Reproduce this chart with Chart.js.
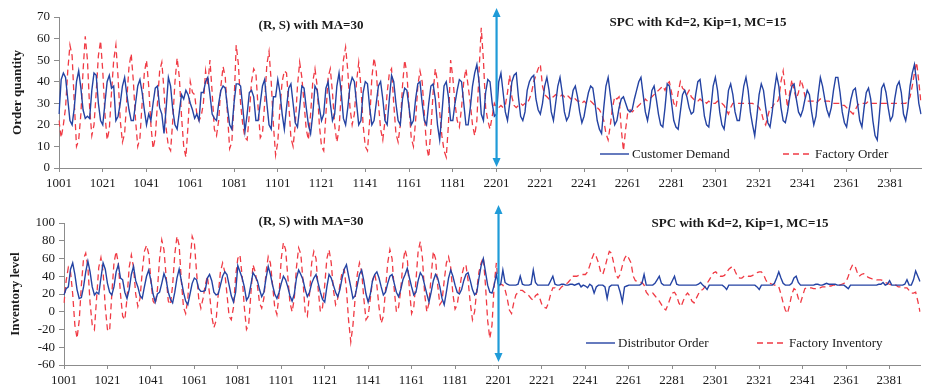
<!DOCTYPE html>
<html>
<head>
<meta charset="utf-8">
<script src="https://cdn.jsdelivr.net/npm/chart.js@4.4.1/dist/chart.umd.min.js"></script>
<style>
  html, body { margin: 0; padding: 0; background: #fff; overflow: hidden; }
  .panel { position: relative; width: 925px; }
</style>
</head>
<body>
<div class="panel" style="height:194px;"><canvas id="order-chart"></canvas></div>
<div class="panel" style="height:193px;"><canvas id="inventory-chart"></canvas></div>
<script>
'use strict';

// periods: (R, S) run 1001-1200, SPC run 2201-2395
const periodRuns = [[1001, 1200], [2201, 2395]];
const tickLabels = ['1001', '1021', '1041', '1061', '1081', '1101', '1121', '1141', '1161', '1181',
  '2201', '2221', '2241', '2261', '2281', '2301', '2321', '2341', '2361', '2381'];

// customer demand
const demandRS = [
  25, 41, 44, 42, 32, 22, 20, 28, 40, 45,
  37, 27, 23, 24, 23, 36, 44, 43, 30, 22,
  20, 30, 40, 43, 37, 38, 22, 24, 30, 38,
  42, 34, 27, 22, 22, 30, 38, 41, 35, 27,
  20, 25, 22, 30, 37, 38, 28, 25, 16, 28,
  42, 38, 27, 20, 18, 26, 34, 32, 36, 34,
  30, 27, 23, 25, 22, 35, 35, 40, 42, 34,
  25, 23, 22, 30, 36, 38, 37, 28, 20, 18,
  30, 39, 39, 38, 28, 17, 25, 35, 36, 33,
  22, 22, 30, 38, 41, 30, 20, 18, 33, 33,
  41, 35, 25, 18, 28, 37, 39, 30, 21, 19,
  28, 38, 37, 28, 20, 16, 25, 38, 36, 28,
  22, 25, 37, 40, 30, 22, 25, 38, 44, 35,
  23, 20, 28, 38, 42, 40, 30, 20, 22, 35,
  40, 39, 28, 20, 22, 30, 38, 40, 32, 22,
  20, 32, 43, 40, 30, 22, 20, 32, 37, 36,
  28, 20, 22, 32, 39, 40, 30, 22, 20, 30,
  38, 39, 32, 20, 13, 25, 38, 40, 33, 22,
  22, 30, 36, 41, 40, 30, 20, 20, 28, 38,
  44, 48, 40, 25, 22, 35, 41, 40, 30, 24
];
const demandSPC = [
  25, 40, 44, 35, 26, 22, 30, 40, 43, 44,
  33, 24, 22, 26, 36, 40, 42, 43, 32, 27,
  25, 30, 38, 42, 36, 26, 22, 30, 38, 42,
  35, 26, 22, 24, 30, 36, 38, 33, 26, 21,
  24, 30, 35, 38, 37, 30, 22, 18, 16, 28,
  38, 42, 34, 26, 20, 22, 28, 32, 33, 30,
  27, 26, 27, 32, 36, 40, 42, 34, 26, 22,
  28, 36, 38, 32, 25, 20, 19, 28, 39, 38,
  30, 22, 19, 18, 26, 34, 36, 33, 28, 25,
  26, 34, 40, 41, 33, 24, 20, 19, 28, 38,
  42, 36, 26, 20, 18, 26, 36, 39, 34, 26,
  22, 22, 30, 38, 42, 36, 26, 20, 15, 24,
  34, 39, 36, 28, 21, 19, 26, 36, 43, 38,
  28, 22, 21, 26, 33, 38, 39, 32, 26, 24,
  27, 32, 36, 34, 26, 20, 24, 34, 42, 38,
  32, 27, 24, 28, 36, 42, 42, 35, 26, 21,
  19, 26, 32, 36, 37, 30, 22, 19, 28, 35,
  37, 32, 22, 15, 13, 25, 37, 39, 35, 28,
  22, 24, 32, 38, 40, 35, 25, 22, 28, 38,
  44, 48, 40, 30, 25
];

// factory order
const factoryOrderRS = [
  22, 14, 20, 28, 45, 57, 52, 30, 10, 13,
  25, 45, 61, 50, 28, 15, 20, 35, 52, 59,
  45, 25, 13, 18, 35, 50, 57, 42, 22, 12,
  16, 32, 47, 53, 40, 22, 10, 14, 30, 44,
  50, 38, 20, 9, 14, 30, 45, 49, 36, 18,
  10, 8, 22, 40, 51, 42, 24, 10, 5, 20,
  40, 35, 34, 25, 22, 24, 30, 45, 38, 50,
  35, 18, 15, 22, 38, 47, 42, 25, 9, 12,
  30, 57, 48, 30, 20, 14, 13, 25, 40, 46,
  44, 28, 14, 16, 30, 48, 54, 40, 20, 6,
  12, 28, 40, 45, 44, 30, 14, 10, 20, 38,
  49, 42, 30, 18, 13, 25, 40, 46, 38, 20,
  10, 8, 25, 42, 46, 35, 20, 12, 18, 35,
  50, 56, 45, 28, 20, 25, 40, 49, 38, 20,
  10, 8, 22, 42, 51, 45, 30, 18, 13, 22,
  35, 44, 46, 30, 16, 12, 20, 38, 50, 44,
  28, 14, 10, 22, 38, 45, 40, 25, 10, 5,
  18, 35, 46, 40, 26, 15, 8, 5, 20, 50,
  42, 30, 22, 19, 28, 40, 46, 38, 30, 20,
  15, 22, 45, 65, 50, 28, 22, 18, 24, 30
];
const factoryOrderSPC = [
  28, 28, 29, 28, 29, 35, 43, 33, 29, 28,
  29, 30, 29, 30, 30, 32, 35, 40, 43, 46,
  48, 38, 34, 33, 32, 33, 33, 34, 33, 33,
  34, 33, 34, 33, 32, 33, 32, 31, 31, 30,
  31, 30, 30, 31, 30, 29, 28, 27, 25, 22,
  16, 13, 20, 28, 33, 32, 33, 18, 8, 18,
  26, 27, 26, 27, 28, 29, 30, 30, 32, 31,
  32, 33, 34, 35, 36, 37, 38, 36, 39, 40,
  35, 30, 28, 35, 40, 37, 36, 34, 36, 33,
  32, 31, 31, 32, 31, 31, 30, 31, 30, 30,
  30, 31, 30, 30, 29, 27, 25, 28, 30, 30,
  30, 30, 30, 30, 30, 30, 30, 30, 29, 29,
  28, 26, 22, 20, 24, 28, 28, 30, 30, 32,
  40, 45, 36, 28, 35, 41, 36, 32, 35, 41,
  38, 33, 31, 31, 31, 31, 30, 31, 32, 32,
  31, 31, 31, 30, 30, 30, 30, 30, 29, 29,
  28, 27, 26, 25, 27, 29, 30, 30, 30, 30,
  31, 30, 30, 30, 30, 30, 30, 30, 30, 30,
  30, 30, 30, 30, 30, 30, 30, 30, 31, 33,
  38, 44, 49, 40, 30
];

// distributor order
const distributorOrderRS = [
  19, 26, 28, 48, 55, 42, 25, 15, 16, 28,
  45, 57, 45, 28, 19, 22, 20, 38, 55, 48,
  32, 22, 19, 28, 45, 53, 38, 36, 22, 15,
  25, 42, 51, 35, 28, 18, 15, 28, 40, 47,
  35, 20, 11, 20, 22, 32, 43, 36, 22, 14,
  10, 22, 38, 48, 35, 22, 12, 8, 20, 32,
  38, 36, 26, 23, 23, 24, 38, 42, 35, 22,
  19, 20, 30, 40, 45, 42, 30, 18, 11, 22,
  52, 45, 38, 28, 13, 17, 30, 44, 40, 35,
  25, 17, 22, 38, 51, 42, 30, 20, 15, 22,
  32, 40, 36, 28, 18, 12, 20, 38, 47, 42,
  36, 25, 17, 22, 32, 38, 42, 32, 22, 14,
  11, 28, 42, 38, 30, 22, 17, 25, 38, 48,
  53, 40, 28, 15, 18, 30, 42, 47, 35, 20,
  11, 20, 35, 42, 45, 38, 28, 19, 22, 32,
  40, 42, 32, 22, 17, 25, 36, 42, 49, 38,
  28, 19, 22, 35, 44, 40, 30, 20, 11, 22,
  35, 42, 38, 28, 15, 8, 22, 38, 47, 40,
  30, 22, 20, 25, 35, 42, 44, 35, 25, 19,
  22, 38, 52, 60, 45, 30, 22, 21, 30, 42
];
const distributorOrderSPC = [
  30, 31, 47, 33, 31, 30, 30, 30, 30, 31,
  40, 31, 30, 30, 30, 31, 47, 33, 30, 30,
  30, 30, 30, 30, 35, 40, 31, 30, 30, 31,
  31, 30, 30, 31, 31, 30, 31, 32, 28, 30,
  29, 27, 31, 29, 21, 28, 30, 30, 30, 28,
  15, 28, 30, 30, 30, 30, 22, 11, 28, 29,
  30, 30, 30, 30, 30, 30, 32, 42, 30, 30,
  30, 30, 32, 36, 40, 32, 30, 30, 30, 30,
  35, 40, 31, 30, 30, 30, 30, 30, 30, 30,
  30, 30, 31, 33, 30, 28, 25, 30, 30, 30,
  30, 30, 30, 30, 28, 25, 30, 30, 30, 30,
  30, 30, 30, 30, 30, 30, 30, 30, 30, 28,
  25, 30, 30, 30, 30, 30, 30, 32, 38, 45,
  38, 32, 30, 30, 30, 32, 38, 40, 33, 30,
  30, 30, 30, 30, 30, 30, 31, 31, 30, 30,
  31, 32, 31, 31, 31, 31, 30, 30, 30, 30,
  28, 26, 30, 30, 30, 30, 30, 30, 30, 30,
  30, 30, 30, 30, 30, 31, 31, 33, 30, 31,
  35, 30, 30, 30, 30, 30, 30, 31, 36, 30,
  30, 36, 46, 40, 34
];

// factory inventory
const factoryInventoryRS = [
  10, 35, 50, 45, 20, -15, -30, -10, 30, 60,
  66, 50, 10, -15, -20, 15, 50, 61, 45, 5,
  -20, -22, 20, 55, 68, 55, 20, -5, -9, 15,
  50, 64, 50, 20, 6, 15, 45, 68, 75, 65,
  35, 12, 8, 25, 60, 81, 70, 40, 12, 8,
  30, 65, 85, 75, 35, 5, -2, 15, 55, 85,
  78, 45, 15, 4, 15, 30, 40, 20, -5, -18,
  -10, 20, 45, 55, 45, 20, -5, -9, 5, 40,
  60, 64, 40, 5, -20, -15, 20, 53, 45, 30,
  10, 4, 15, 45, 62, 55, 30, 5, -3, 20,
  60, 78, 70, 40, 10, 0, 15, 50, 72, 65,
  35, 0, -5, 20, 55, 68, 60, 25, 0, 5,
  30, 60, 70, 55, 25, 8, 15, 30, 45, 48,
  25, -10, -34, -15, 15, 42, 55, 45, 15, -9,
  -5, 15, 35, 43, 30, 5, -13, -5, 25, 55,
  70, 60, 25, 0, 5, 25, 55, 70, 60, 25,
  -2, 5, 35, 68, 79, 60, 20, 0, 10, 40,
  68, 60, 30, 8, 12, 35, 55, 62, 50, 20,
  3, 8, 25, 40, 50, 53, 35, 10, -9, 0,
  25, 45, 55, 61, 30, -10, -30, -15, 30, 55
];
const factoryInventorySPC = [
  28, 31, 30, 25, 15, 2, -2, 10, 19, 22,
  24, 24, 22, 20, 18, 15, 13, 18, 20, 15,
  8, 5, 4, 10, 20, 27, 27, 25, 25, 28,
  30, 31, 33, 36, 40, 40, 40, 41, 42, 42,
  42, 45, 52, 60, 66, 62, 55, 45, 42, 50,
  60, 68, 66, 55, 42, 38, 42, 52, 60, 64,
  60, 55, 40, 35, 34, 33, 33, 30, 22, 19,
  20, 21, 18, 15, 12, 8, 4, 2, 8, 15,
  21, 22, 18, 10, 6, 12, 18, 21, 18, 12,
  10, 15, 20, 24, 25, 28, 32, 36, 40, 44,
  45, 42, 40, 40, 41, 44, 48, 50, 51, 45,
  40, 38, 38, 40, 41, 40, 40, 41, 43, 44,
  45, 45, 42, 36, 32, 32, 31, 30, 30, 28,
  20, 10, 2, -2, 8, 20, 26, 24, 15, 10,
  18, 26, 27, 27, 27, 26, 26, 27, 27, 28,
  28, 28, 29, 29, 30, 30, 30, 30, 31, 32,
  34, 40, 48, 53, 52, 45, 40, 42, 43, 42,
  39, 38, 37, 37, 36, 36, 36, 35, 33, 32,
  31, 30, 30, 30, 28, 28, 28, 27, 27, 24,
  21, 21, 22, 12, 0
];

const periods = [];
for (const [from, to] of periodRuns) {
  for (let p = from; p <= to; p++) periods.push(String(p));
}
const splitIndex = periods.indexOf('2201');

const SERIF = '"Liberation Serif", "Times New Roman", serif';
const INK = '#1a1a1a';
const AXIS = '#8c8c8c';
const BLUE = '#2443a3';
const RED = '#f03a44';
const ARROW = '#1f9bd8';

// divider arrow, run captions and the in-plot legend
const panelDecor = {
  id: 'panelDecor',
  afterDatasetsDraw(chart, args, opts) {
    const { ctx } = chart;
    const ax = chart.scales.x.getPixelForValue(splitIndex);
    ctx.save();

    ctx.strokeStyle = ARROW;
    ctx.fillStyle = ARROW;
    ctx.lineWidth = 2.2;
    ctx.beginPath();
    ctx.moveTo(ax, opts.arrowTop + 6);
    ctx.lineTo(ax, opts.arrowBottom - 6);
    ctx.stroke();
    [[opts.arrowTop, 1], [opts.arrowBottom, -1]].forEach(([tipY, dir]) => {
      ctx.beginPath();
      ctx.moveTo(ax, tipY);
      ctx.lineTo(ax - 4, tipY + dir * 9);
      ctx.lineTo(ax + 4, tipY + dir * 9);
      ctx.closePath();
      ctx.fill();
    });

    ctx.fillStyle = INK;
    ctx.font = 'bold 13px ' + SERIF;
    ctx.textAlign = 'center';
    ctx.textBaseline = 'middle';
    opts.captions.forEach(c => ctx.fillText(c.text, c.x, c.y));

    ctx.font = '13px ' + SERIF;
    ctx.textAlign = 'left';
    chart.data.datasets.forEach((ds, k) => {
      const e = opts.legend[k];
      ctx.strokeStyle = ds.borderColor;
      ctx.lineWidth = ds.borderWidth;
      ctx.setLineDash(ds.borderDash || []);
      ctx.beginPath();
      ctx.moveTo(e.x, e.y);
      ctx.lineTo(e.x + 29, e.y);
      ctx.stroke();
      ctx.setLineDash([]);
      ctx.fillStyle = INK;
      ctx.fillText(ds.label, e.x + 32, e.y + 0.5);
    });
    ctx.restore();
  },
};

function xAxis(height) {
  return {
    type: 'category',
    offset: false,
    ticks: {
      autoSkip: false,
      maxRotation: 0,
      padding: 4,
      color: INK,
      font: { family: SERIF, size: 13 },
      callback(v) {
        const label = this.getLabelForValue(v);
        return tickLabels.includes(label) ? label : '';
      },
    },
    grid: {
      drawOnChartArea: false,
      tickLength: 4,
      color: (c) => (tickLabels.includes(periods[c.index]) ? AXIS : 'rgba(0,0,0,0)'),
    },
    border: { color: AXIS, width: 1 },
    afterFit: (s) => { s.height = height; },
  };
}

function yAxis(min, max, step, title, width, titlePad) {
  return {
    min, max,
    ticks: { stepSize: step, autoSkip: false, padding: 4, color: INK, font: { family: SERIF, size: 13 } },
    grid: { drawOnChartArea: false, tickLength: 5, color: AXIS },
    border: { color: AXIS, width: 1 },
    title: {
      display: true, text: title, color: INK,
      font: { family: SERIF, size: 13, weight: 'bold' },
      padding: { top: titlePad, bottom: 0 },
    },
    afterFit: (s) => { s.width = width; },
  };
}

function lineSet(label, data, color, dashed) {
  return {
    label, data,
    borderColor: color,
    borderWidth: dashed ? 1.3 : 1.4,
    borderDash: dashed ? [6, 4] : [],
    pointRadius: 0,
    tension: 0,
    fill: false,
  };
}

function buildChart(id, cfg) {
  return new Chart(document.getElementById(id), {
    type: 'line',
    data: { labels: periods, datasets: cfg.datasets },
    options: {
      responsive: true,
      maintainAspectRatio: false,
      animation: false,
      events: [],
      layout: { padding: cfg.padding },
      plugins: { legend: { display: false }, tooltip: { enabled: false }, panelDecor: cfg.decor },
      scales: { x: xAxis(cfg.xHeight), y: cfg.y },
    },
    plugins: [panelDecor],
  });
}

buildChart('order-chart', {
  datasets: [
    lineSet('Customer Demand', [...demandRS, ...demandSPC], BLUE, false),
    lineSet('Factory Order', [...factoryOrderRS, ...factoryOrderSPC], RED, true),
  ],
  padding: { top: 17, right: 3, bottom: 2, left: 0 },
  xHeight: 24,
  y: yAxis(0, 70, 10, 'Order quantity', 59, 10),
  decor: {
    arrowTop: 8, arrowBottom: 167,
    captions: [
      { text: '(R, S) with MA=30', x: 311, y: 26 },
      { text: 'SPC with Kd=2, Kip=1, MC=15', x: 698, y: 23 },
    ],
    legend: [{ x: 600, y: 154 }, { x: 783, y: 154 }],
  },
});

buildChart('inventory-chart', {
  datasets: [
    lineSet('Distributor Order', [...distributorOrderRS, ...distributorOrderSPC], BLUE, false),
    lineSet('Factory Inventory', [...factoryInventoryRS, ...factoryInventorySPC], RED, true),
  ],
  padding: { top: 29, right: 5, bottom: 2, left: 0 },
  xHeight: 20,
  y: yAxis(-60, 100, 20, 'Inventory level', 64, 8),
  decor: {
    arrowTop: 11, arrowBottom: 168,
    captions: [
      { text: '(R, S) with MA=30', x: 311, y: 28 },
      { text: 'SPC with Kd=2, Kip=1, MC=15', x: 740, y: 30 },
    ],
    legend: [{ x: 586, y: 149 }, { x: 757, y: 149 }],
  },
});
</script>
</body>
</html>
